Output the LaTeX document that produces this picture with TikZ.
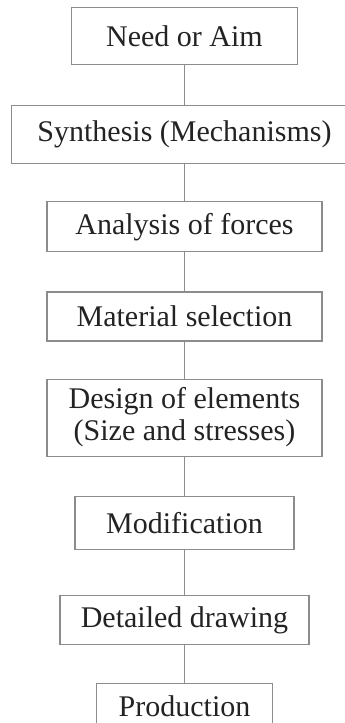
\documentclass[tikz,border=0pt]{standalone}
\usepackage{fontspec}
\setmainfont{Liberation Serif}
\usetikzlibrary{positioning}
\definecolor{boxgray}{RGB}{140, 140, 140}
\definecolor{textdark}{RGB}{35, 35, 35}

\begin{document}
\begin{tikzpicture}[
    x=1pt, y=1pt,
    node distance=38pt,
    stagebox/.style={
        draw=boxgray, line width=1.2pt, inner sep=0pt,
        align=center, text=textdark,
        font=\fontsize{30}{32}\selectfont
    },
    link/.style={draw=boxgray, line width=1.2pt}
]

% page frame, as in the reference (bottom box runs off the page)
\useasboundingbox (0, 0) rectangle (345, -723);

% STAGES - top to bottom
\node[stagebox, minimum width=226pt, minimum height=57pt] at (184.5, -35.8) (need) {Need or Aim};

\node[stagebox, minimum width=346pt, minimum height=58pt, below=40pt of need] (synthesis) {Synthesis (Mechanisms)};

\node[stagebox, minimum width=275pt, minimum height=50pt, below=37pt of synthesis] (forces) {Analysis of forces};

\node[stagebox, minimum width=275pt, minimum height=49pt, below=39pt of forces] (material) {Material selection};

\node[stagebox, minimum width=275pt, minimum height=77pt, below=37pt of material] (design) {Design of elements\\(Size and stresses)};

\node[stagebox, minimum width=219pt, minimum height=53pt, below=39pt of design] (modify) {Modification};

\node[stagebox, minimum width=249pt, minimum height=49pt, below=45pt of modify] (drawing) {Detailed drawing};

\node[stagebox, minimum width=176pt, minimum height=46pt, below=38pt of drawing] (production) {Production};

% CONNECTORS
\draw[link] (need.south) -- (synthesis.north);
\draw[link] (synthesis.south) -- (forces.north);
\draw[link] (forces.south) -- (material.north);
\draw[link] (material.south) -- (design.north);
\draw[link] (design.south) -- (modify.north);
\draw[link] (modify.south) -- (drawing.north);
\draw[link] (drawing.south) -- (production.north);

\end{tikzpicture}
\end{document}
